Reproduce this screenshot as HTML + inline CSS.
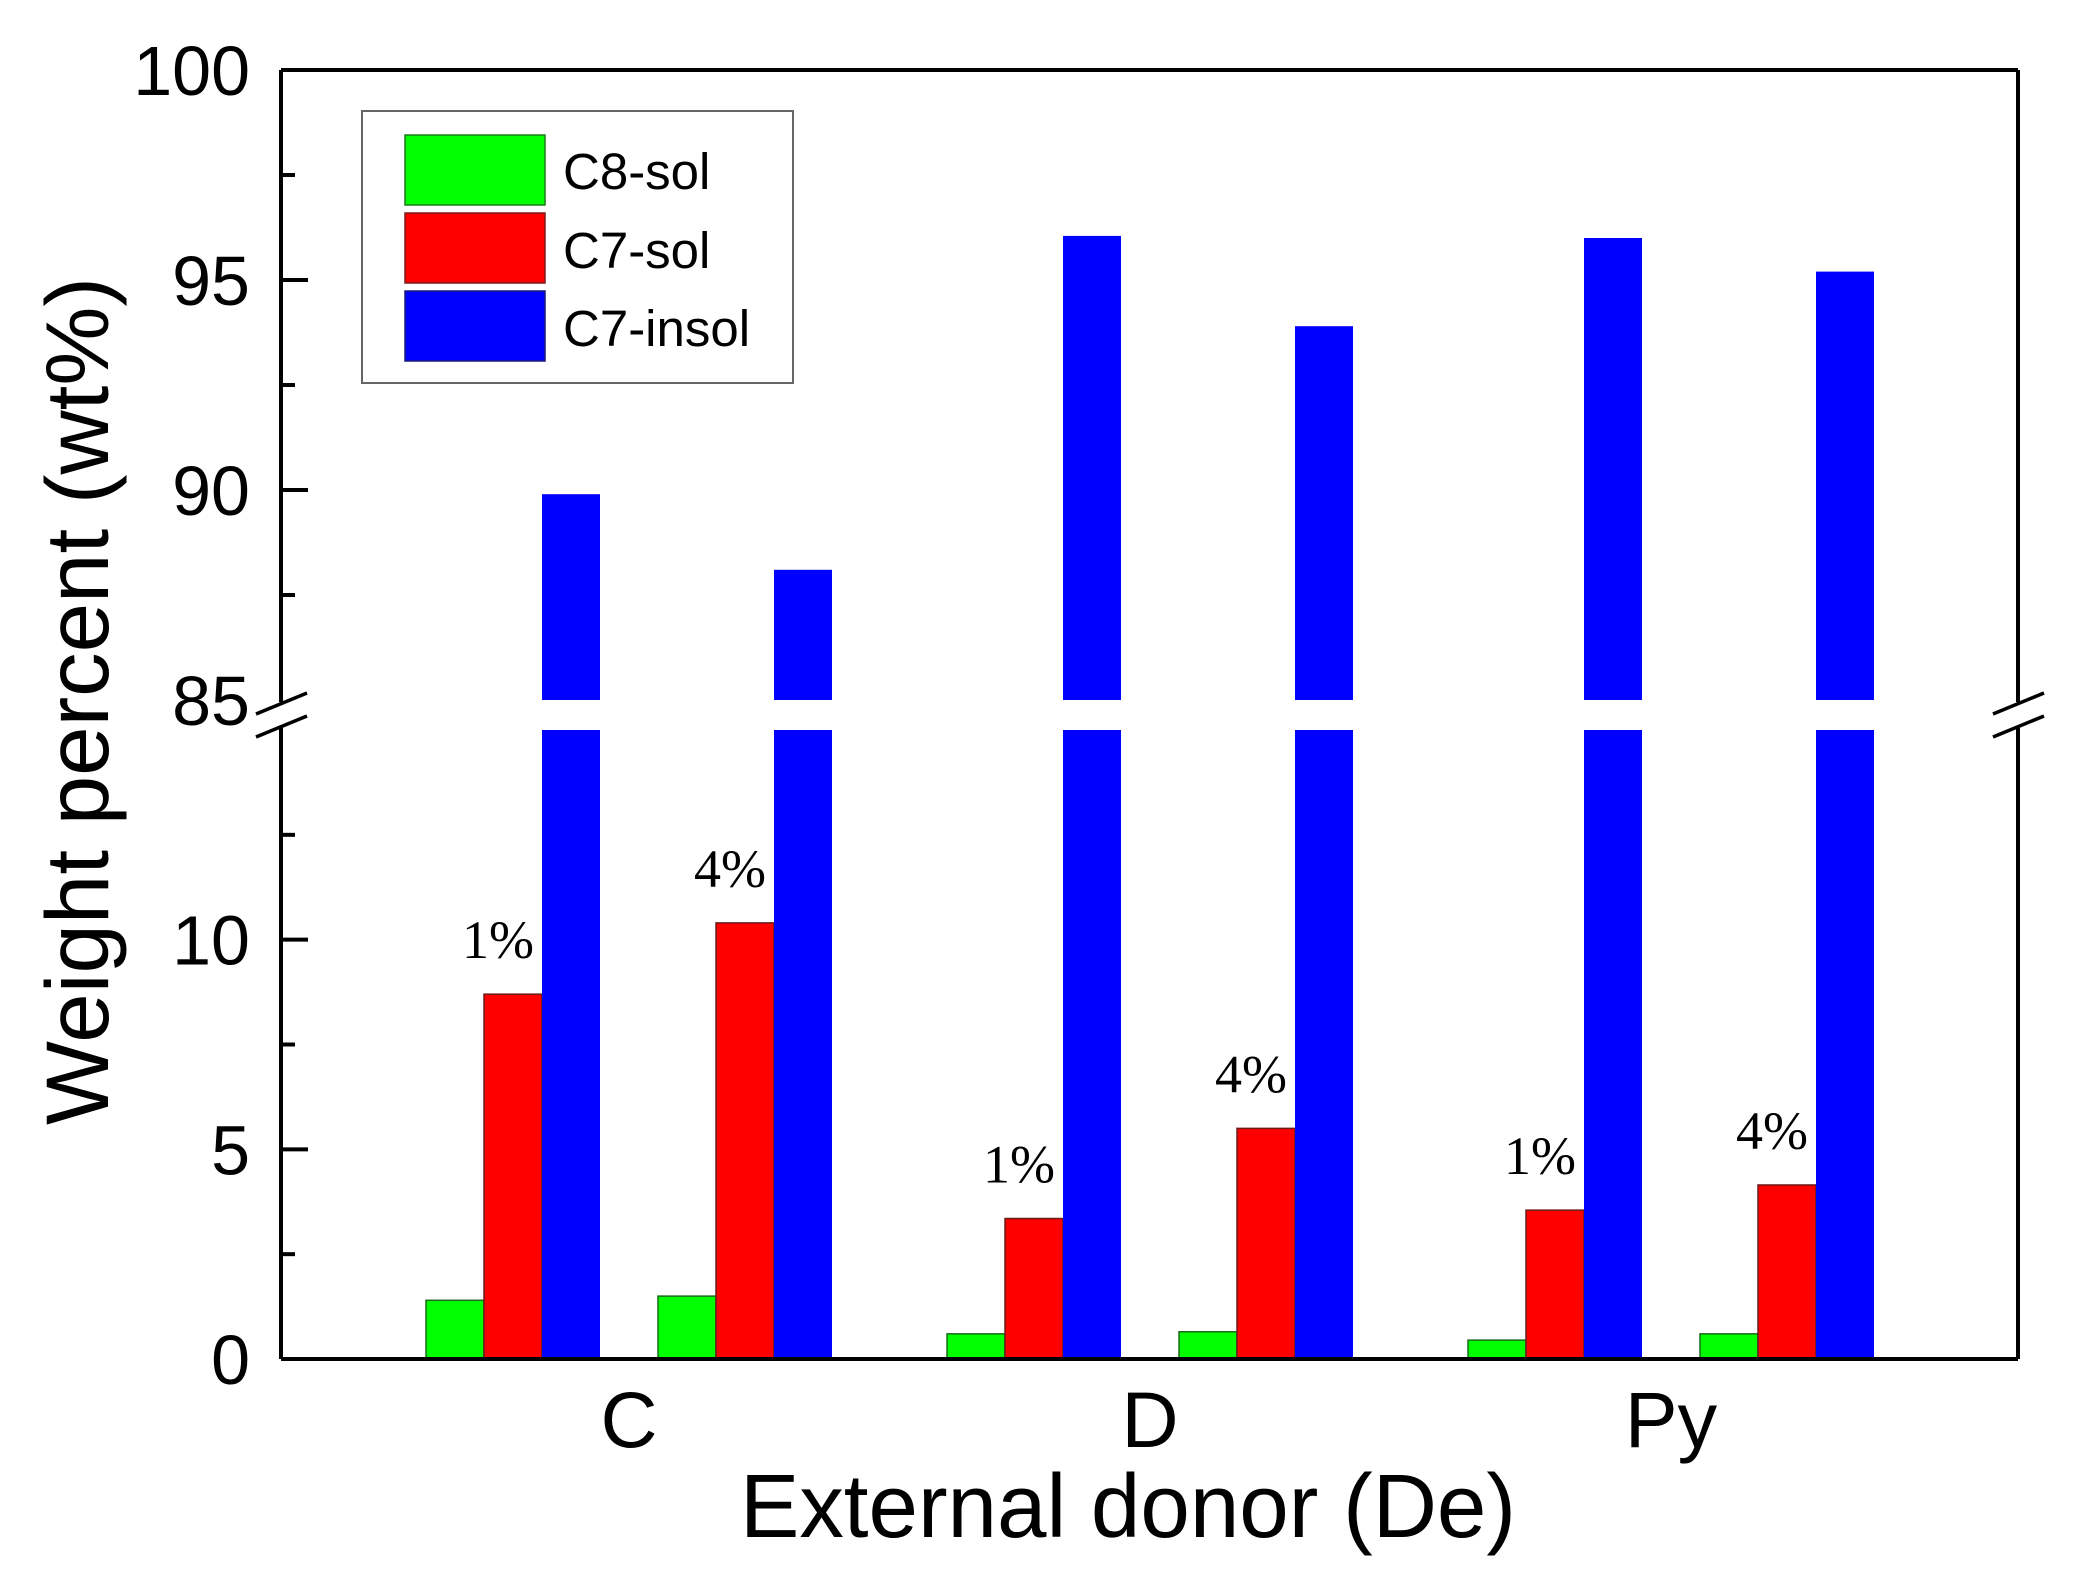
<!DOCTYPE html>
<html><head><meta charset="utf-8"><style>
html,body{margin:0;padding:0;background:#fff;}
svg{display:block;}
text{font-family:"Liberation Sans",sans-serif;}
</style></head><body>
<svg id="chart" width="2079" height="1592" viewBox="0 0 2079 1592" xmlns="http://www.w3.org/2000/svg">
<g id="bars"></g>
<g id="axes"></g>
<g id="legend">
  <rect x="362" y="111" width="431" height="272" fill="#fff" stroke="#666" stroke-width="2"/>
  <rect x="405" y="135" width="140" height="70" fill="#00ff00" stroke="#1a7a1a" stroke-width="1.5"/>
  <rect x="405" y="213" width="140" height="70" fill="#ff0000" stroke="#7a1a1a" stroke-width="1.5"/>
  <rect x="405" y="291" width="140" height="70" fill="#0000ff" stroke="#1a1a7a" stroke-width="1.5"/>
  <text x="563" y="189" font-size="51">C8-sol</text>
  <text x="563" y="268" font-size="51">C7-sol</text>
  <text x="563" y="346" font-size="51">C7-insol</text>
</g>
<text transform="translate(108,701) rotate(-90)" text-anchor="middle" font-size="89" textLength="848" lengthAdjust="spacingAndGlyphs">Weight percent (wt%)</text>
<text x="1128" y="1537" text-anchor="middle" font-size="90" textLength="776" lengthAdjust="spacingAndGlyphs">External donor (De)</text>
</svg>
<script>
const categories = ["C", "D", "Py"];
const subLabels = ["1%", "4%"];
const c8sol = [[1.4, 1.5], [0.6, 0.65], [0.45, 0.6]];
const c7sol = [[8.7, 10.4], [3.35, 5.5], [3.55, 4.15]];
const c7insol = [[89.9, 88.1], [96.05, 93.9], [96.0, 95.2]];
const lowerTicks = [0, 5, 10];
const lowerMinor = [2.5, 7.5, 12.5];
const upperTicks = [85, 90, 95, 100];
const upperMinor = [87.5, 92.5, 97.5];

const NS = "http://www.w3.org/2000/svg";
const L = 281, R = 2018, T = 70, B = 1359;
const lowTop = 730, upBot = 700;
function yScale(v) {
  if (v <= 15) return B - v * (B - lowTop) / 15;
  return upBot - (v - 85) * (upBot - T) / 15;
}
const groupSpacing = 521, firstCenter = 629, barW = 58, subOff = 232;
function xCat(i) { return firstCenter + i * groupSpacing; }
function xBar(i, s, k) { return xCat(i) - 203 + s * subOff + k * barW; }
function mk(tag, attrs, parent) {
  const e = document.createElementNS(NS, tag);
  for (const a in attrs) e.setAttribute(a, attrs[a]);
  parent.appendChild(e);
  return e;
}
const bars = document.getElementById('bars');
const axes = document.getElementById('axes');
const colors = ["#00ff00", "#ff0000", "#0000ff"];
const strokes = ["#1a6a1a", "#6a1a1a", "#1a1a6a"];
const series = [c8sol, c7sol, c7insol];
const snames = ["c8-sol", "c7-sol", "c7-insol"];
categories.forEach((c, i) => {
  for (let s = 0; s < 2; s++) {
    series.forEach((ser, k) => {
      const v = ser[i][s];
      const x = xBar(i, s, k);
      if (v > 15) {
        const r1 = mk('rect', {x: x, y: lowTop, width: barW, height: B - lowTop, fill: colors[k]}, bars);
        
        
        const yt = yScale(v);
        const r2 = mk('rect', {x: x, y: yt, width: barW, height: upBot - yt, fill: colors[k]}, bars);
        
        
      } else {
        const yt = yScale(v);
        const r = mk('rect', {x: x, y: yt, width: barW, height: B - yt, fill: colors[k], stroke: strokes[k], 'stroke-width': 1.5}, bars);
        
        
      }
    });
    const rx = xBar(i, s, 1) + barW / 2 - 15;
    const t = mk('text', {x: rx, y: yScale(c7sol[i][s]) - 36, 'text-anchor': 'middle', 'font-size': 54, style: 'font-family:"Liberation Serif",serif'}, bars);
    t.textContent = subLabels[s];
    
    
  }
  const ct = mk('text', {x: xCat(i), y: 1447, 'text-anchor': 'middle', 'font-size': 79}, axes);
  ct.textContent = c;
  
  
});
const st = {stroke: '#000', 'stroke-width': 4, fill: 'none'};
function line(x1, y1, x2, y2, name, w) {
  const l = mk('line', {x1, y1, x2, y2, stroke: '#000', 'stroke-width': w || 4}, axes);
  
  
}
line(L, B, R, B, 'x-axis-line');
line(L, T, R, T, 'top-axis-line');
line(L, T, L, upBot + 2, 'y-axis-upper-line');
line(L, lowTop - 2, L, B, 'y-axis-lower-line');
line(R, T, R, upBot + 2, 'right-axis-upper-line');
line(R, lowTop - 2, R, B, 'right-axis-lower-line');
[L, R].forEach((x, j) => {
  line(x - 25, upBot + 14, x + 26, upBot - 7, 'axis-break-mark', 3.5);
  line(x - 25, lowTop + 7, x + 26, lowTop - 14, 'axis-break-mark', 3.5);
});
lowerTicks.concat(upperTicks).forEach(v => {
  if (v !== 85) line(L, yScale(v), L + 27, yScale(v), 'y-major-tick');
  const t = mk('text', {x: 250, y: yScale(v) + 25, 'text-anchor': 'end', 'font-size': 70}, axes);
  t.textContent = v;
  
  
});
lowerMinor.concat(upperMinor).forEach(v => {
  line(L, yScale(v), L + 14, yScale(v), 'y-minor-tick');
});
</script>
</body></html>
